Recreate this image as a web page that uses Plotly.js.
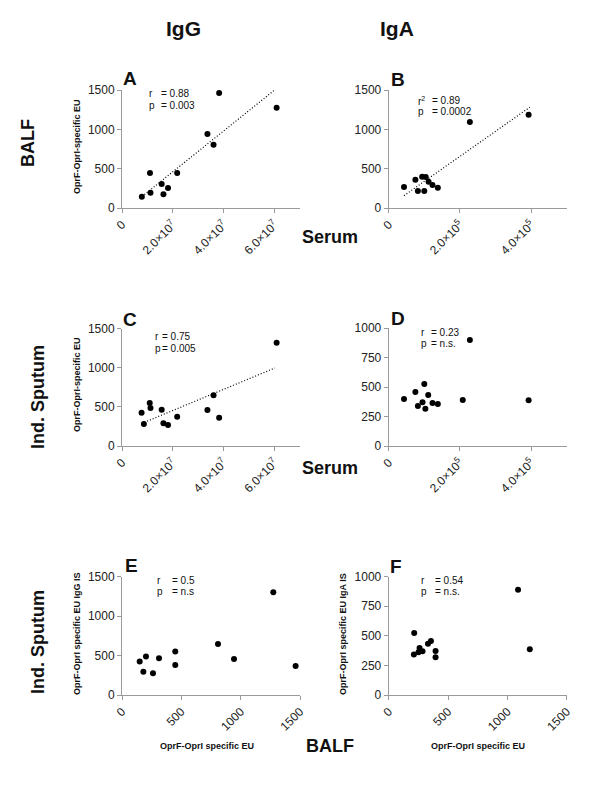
<!DOCTYPE html>
<html>
<head>
<meta charset="utf-8">
<script src="https://cdn.plot.ly/plotly-3.0.1.min.js"></script>
<style>html,body{margin:0;padding:0;background:#fff;}#chart{width:600px;height:785px;}</style>
</head>
<body>
<div id="chart"></div>
<script>
// ---------- data ----------
const A_x = [0.78e7, 1.10e7, 1.12e7, 1.56e7, 1.63e7, 1.81e7, 2.17e7, 3.36e7, 3.60e7, 3.82e7, 6.08e7];
const A_y = [144, 445, 195, 305, 174, 254, 445, 941, 805, 1462, 1275];
const A_fit_x = [0.88e7, 5.97e7];
const A_fit_y = [170, 1492];

const B_x = [0.43e5, 0.75e5, 0.82e5, 0.94e5, 1.00e5, 1.04e5, 1.12e5, 1.23e5, 1.38e5, 2.28e5, 3.93e5];
const B_y = [267, 360, 216, 398, 216, 394, 335, 292, 258, 1093, 1186];
const B_fit_x = [0.43e5, 3.96e5];
const B_fit_y = [157, 1280];

const C_x = [0.77e7, 0.86e7, 1.09e7, 1.12e7, 1.56e7, 1.63e7, 1.81e7, 2.17e7, 3.36e7, 3.60e7, 3.82e7, 6.08e7];
const C_y = [426, 281, 550, 486, 464, 290, 268, 375, 460, 648, 362, 1321];
const C_fit_x = [0.88e7, 6.01e7];
const C_fit_y = [303, 997];

const D_x = [0.43e5, 0.75e5, 0.82e5, 0.95e5, 1.00e5, 1.03e5, 1.11e5, 1.23e5, 1.38e5, 2.08e5, 2.28e5, 3.93e5];
const D_y = [398, 458, 339, 370, 525, 316, 432, 364, 356, 390, 898, 387];

const E_x = [149, 180, 202, 261, 312, 449, 449, 809, 944, 1275, 1463];
const E_y = [425, 296, 488, 275, 467, 550, 379, 646, 458, 1304, 367];

const F_x = [215, 212, 251, 260, 285, 331, 356, 395, 395, 1090, 1189];
const F_y = [525, 342, 361, 397, 369, 433, 456, 372, 319, 889, 386];

const serumIgG_ticks = [0, 2e7, 4e7, 6e7];
const serumIgG_text = ["0", "2.0×10<sup>7</sup>", "4.0×10<sup>7</sup>", "6.0×10<sup>7</sup>"];
const serumIgA_ticks = [0, 2e5, 4e5];
const serumIgA_text = ["0", "2.0×10<sup>5</sup>", "4.0×10<sup>5</sup>"];
const eu1500_ticks = [0, 500, 1000, 1500];
const eu1000_ticks = [0, 250, 500, 750, 1000];

const stats = [
  {lab: "r", val: "= 0.88"}, {lab: "p", val: "= 0.003"},
  {lab: "r<sup>2</sup>", val: "= 0.89"}, {lab: "p", val: "= 0.0002"},
  {lab: "r", val: "= 0.75"}, {lab: "p", val: "= 0.005"},
  {lab: "r", val: "= 0.23"}, {lab: "p", val: "= n.s."},
  {lab: "r", val: "= 0.5"}, {lab: "p", val: "= n.s"},
  {lab: "r", val: "= 0.54"}, {lab: "p", val: "= n.s."}
];

// ---------- layout helpers ----------
const W = 600, H = 785;
const FONT = "Liberation Sans, Arial, sans-serif";
const px = x => x / W;
const py = y => 1 - y / H;

const AX = "#9a9a9a";
function xa(n, d, range, tv, tt) {
  return {anchor: "y" + n, domain: [px(d[0]), px(d[1])], range: range, tickvals: tv, ticktext: tt || tv.map(String),
    tickangle: -45, showline: true, linecolor: AX, linewidth: 1, ticks: "outside", ticklen: 4,
    tickcolor: AX, showgrid: false, zeroline: false, fixedrange: true,
    tickfont: {family: FONT, size: 12, color: "#222"}};
}
function ya(n, d, range, tv) {
  return {anchor: "x" + n, domain: [py(d[1]), py(d[0])], range: range, tickvals: tv, ticktext: tv.map(String),
    showline: true, linecolor: AX, linewidth: 1, ticks: "outside", ticklen: 4,
    tickcolor: AX, showgrid: false, zeroline: false, fixedrange: true,
    tickfont: {family: FONT, size: 12, color: "#222"}};
}

const LX = [122, 300], RX = [388.7, 566.7];
const layout = {
  width: W, height: H, margin: {l: 0, r: 0, t: 0, b: 0},
  paper_bgcolor: "#fff", plot_bgcolor: "#fff", showlegend: false,
  xaxis:  xa("", LX, [0, 7e7], serumIgG_ticks, serumIgG_text),
  yaxis:  ya("", [90, 208], [0, 1500], eu1500_ticks),
  xaxis2: xa(2, RX, [0, 5e5], serumIgA_ticks, serumIgA_text),
  yaxis2: ya(2, [90, 208], [0, 1500], eu1500_ticks),
  xaxis3: xa(3, LX, [0, 7e7], serumIgG_ticks, serumIgG_text),
  yaxis3: ya(3, [328.7, 446], [0, 1500], eu1500_ticks),
  xaxis4: xa(4, RX, [0, 5e5], serumIgA_ticks, serumIgA_text),
  yaxis4: ya(4, [328, 446], [0, 1000], eu1000_ticks),
  xaxis5: xa(5, LX, [0, 1500], eu1500_ticks),
  yaxis5: ya(5, [576.7, 695], [0, 1500], eu1500_ticks),
  xaxis6: xa(6, RX, [0, 1500], eu1500_ticks),
  yaxis6: ya(6, [576.7, 695], [0, 1000], eu1000_ticks),
  annotations: []
};

function ann(text, x, y, size, opts) {
  layout.annotations.push(Object.assign({text: text, x: px(x), y: py(y), xref: "paper", yref: "paper",
    showarrow: false, xanchor: "center", yanchor: "middle",
    font: {family: FONT, size: size, color: "#111"}}, opts || {}));
}
// column headers
ann("<b>IgG</b>", 183, 29, 21);
ann("<b>IgA</b>", 397, 29, 21);
// row labels
ann("<b>BALF</b>", 28, 143, 18, {textangle: -90});
ann("<b>Ind. Sputum</b>", 38, 397, 18, {textangle: -90});
ann("<b>Ind. Sputum</b>", 38, 642, 18, {textangle: -90});
// shared x titles
ann("<b>Serum</b>", 330, 237, 18);
ann("<b>Serum</b>", 330, 468, 18);
ann("<b>BALF</b>", 330, 746, 18);
// panel letters
const letters = [["A",130,79],["B",398,80],["C",130,319],["D",398,318],["E",131,565],["F",396,566]];
letters.forEach(l => ann("<b>" + l[0] + "</b>", l[1], l[2], 19));
// y titles
ann("<b>OprF-OprI-specific EU</b>", 77, 147, 9, {textangle: -90});
ann("<b>OprF-OprI-specific EU</b>", 77, 385, 9, {textangle: -90});
ann("<b>OprF-OprI specific EU IgG IS</b>", 77, 634, 9, {textangle: -90});
ann("<b>OprF-OprI specific EU IgA IS</b>", 343, 634, 9, {textangle: -90});
// x titles row 3
ann("<b>OprF-OprI specific EU</b>", 207, 746, 9);
ann("<b>OprF-OprI specific EU</b>", 478, 746, 9);
// stats text
const statPos = [[147,159,94,105.7],[416,430,100.7,111.7],[153,160,336.7,348.3],[419,428.7,332.7,343.7],[155,170,580,591.3],[419,433.3,580,591.3]];
statPos.forEach((p, i) => {
  const a = stats[2*i], b = stats[2*i+1];
  ann(a.lab, p[0], p[2], 10, {xanchor: "left"});
  ann(a.val, p[1], p[2], 10, {xanchor: "left"});
  ann(b.lab, p[0], p[3], 10, {xanchor: "left"});
  ann(b.val, p[1], p[3], 10, {xanchor: "left"});
});

function pts(x, y, n) {
  return {x: x, y: y, type: "scatter", mode: "markers", xaxis: "x" + n, yaxis: "y" + n,
    marker: {color: "#000", size: 6}, hoverinfo: "skip", cliponaxis: false};
}
function fit(x, y, n) {
  return {x: x, y: y, type: "scatter", mode: "lines", xaxis: "x" + n, yaxis: "y" + n,
    line: {color: "#000", width: 1.2, dash: "1px,2px"}, hoverinfo: "skip"};
}
const data = [
  fit(A_fit_x, A_fit_y, ""), pts(A_x, A_y, ""),
  fit(B_fit_x, B_fit_y, 2), pts(B_x, B_y, 2),
  fit(C_fit_x, C_fit_y, 3), pts(C_x, C_y, 3),
  pts(D_x, D_y, 4),
  pts(E_x, E_y, 5),
  pts(F_x, F_y, 6)
];
Plotly.newPlot("chart", data, layout, {staticPlot: true, displayModeBar: false});
</script>
</body>
</html>
